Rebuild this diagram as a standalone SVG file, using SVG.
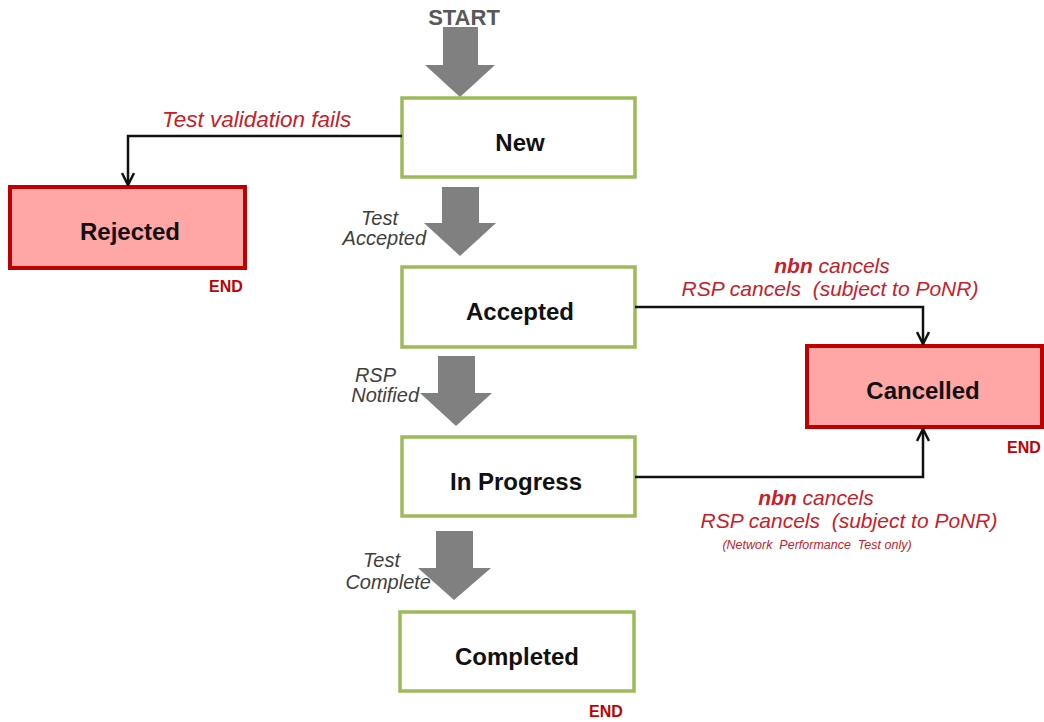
<svg xmlns="http://www.w3.org/2000/svg" width="1044" height="722" viewBox="0 0 1044 722">
<style>
.state{fill:#fff;stroke:#9BBB59;stroke-width:3.5}
.end{fill:#FFA6A6;stroke:#C00000;stroke-width:4}
.lbl{font-family:"Liberation Sans",Arial,sans-serif;font-weight:bold;font-size:24px;fill:#111;text-anchor:middle}
.endt{font-family:"Liberation Sans",Arial,sans-serif;font-weight:bold;font-size:16px;fill:#C00000}
.red{font-family:"Liberation Sans",Arial,sans-serif;font-style:italic;font-size:21px;fill:#C8202A;white-space:pre}
.grey{font-family:"Liberation Sans",Arial,sans-serif;font-style:italic;font-size:20px;fill:#404040}
.blk{fill:#808080}
.conn{fill:none;stroke:#111;stroke-width:2.5}
</style>
<defs>
<marker id="open" viewBox="0 0 14 14" refX="13" refY="7" markerWidth="14" markerHeight="14" markerUnits="userSpaceOnUse" orient="auto">
<path d="M1,1 L13,7 L1,13" fill="none" stroke="#111" stroke-width="2.5"/>
</marker>
</defs>
<rect width="1044" height="722" fill="#fff"/>

<g id="start">
<text x="464" y="25" font-family="Liberation Sans,Arial,sans-serif" font-weight="bold" font-size="22" fill="#595959" text-anchor="middle">START</text>
<path class="blk" d="M443,27 H478 V65 H495 L460,97 L425,65 H443 Z"/>
</g>

<g id="new">
<rect class="state" x="402" y="98" width="233" height="79"/>
<text class="lbl" x="520" y="151">New</text>
</g>

<g id="rejected">
<rect class="end" x="10" y="187" width="235" height="81"/>
<text class="lbl" x="130" y="240">Rejected</text>
<text class="endt" x="209" y="292">END</text>
</g>

<g id="accepted">
<rect class="state" x="402" y="267" width="233" height="80"/>
<text class="lbl" x="520" y="320">Accepted</text>
</g>

<g id="inprogress">
<rect class="state" x="402" y="437" width="233" height="79"/>
<text class="lbl" x="516" y="490">In Progress</text>
</g>

<g id="completed">
<rect class="state" x="400" y="612" width="234" height="79"/>
<text class="lbl" x="517" y="665">Completed</text>
<text class="endt" x="589" y="717">END</text>
</g>

<g id="cancelled">
<rect class="end" x="807" y="346" width="235" height="81"/>
<text class="lbl" x="923" y="399">Cancelled</text>
<text class="endt" x="1007" y="453">END</text>
</g>

<g id="connectors">
<path class="blk" d="M442,187 H479 V223 H496 L460,256 L424,223 H442 Z"/>
<path class="blk" d="M438,356 H475 V393 H492 L456,426 L420,393 H438 Z"/>
<path class="blk" d="M436,531 H473 V568 H491 L454,600 L418,568 H436 Z"/>
<path class="conn" d="M402,136 H128 V185" marker-end="url(#open)"/>
<path class="conn" d="M635,307 H923 V344" marker-end="url(#open)"/>
<path class="conn" d="M635,477 H923 V429" marker-end="url(#open)"/>
</g>

<g id="labels">
<text class="red" x="162" y="127" style="font-size:22.5px">Test validation fails</text>
<text class="grey" x="398" y="225" text-anchor="end">Test</text>
<text class="grey" x="426" y="245" text-anchor="end">Accepted</text>
<text class="grey" x="396" y="382" text-anchor="end">RSP</text>
<text class="grey" x="419" y="402" text-anchor="end">Notified</text>
<text class="grey" x="400" y="567" text-anchor="end">Test</text>
<text class="grey" x="431" y="589" text-anchor="end">Complete</text>
<text class="red" x="832" y="273" text-anchor="middle"><tspan font-weight="bold">nbn</tspan> cancels</text>
<text class="red" x="830" y="296" text-anchor="middle">RSP cancels  (subject to PoNR)</text>
<text class="red" x="816" y="505" text-anchor="middle"><tspan font-weight="bold">nbn</tspan> cancels</text>
<text class="red" x="849" y="528" text-anchor="middle">RSP cancels  (subject to PoNR)</text>
<text class="red" x="817" y="549" text-anchor="middle" style="font-size:12.5px">(Network  Performance  Test only)</text>
</g>
</svg>
